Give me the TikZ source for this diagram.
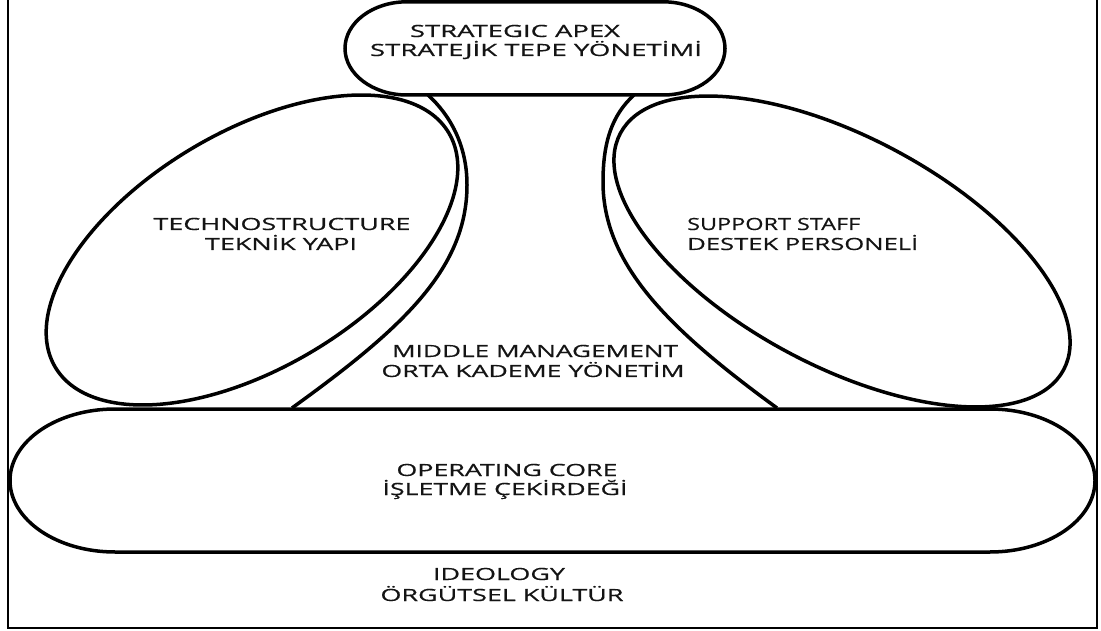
\documentclass[tikz,border=0pt]{standalone}
\usepackage{fontspec}
\setmainfont{Open Sans}
\newfontfamily\lblfont[FakeBold=0.5]{Open Sans}
\usepackage{graphicx}
\newcommand{\fitw}[2]{\resizebox{#1pt}{\height}{#2}}
\begin{document}
\begin{tikzpicture}[x=1pt,y=-1pt,
  shapeline/.style={line width=3.5pt,black},
  frameline/.style={line width=1.8pt,black},
  lbl/.style={inner sep=0pt,anchor=base,font=\lblfont\fontsize{16.8}{20}\selectfont,text=black!92}]
\useasboundingbox (0,0) rectangle (1101,631);
% frame
\draw[frameline] (8,-5) -- (8,628) -- (1097,628) -- (1097,-5);
% operating core
\draw[shapeline] (115,409) -- (990,409)
  arc[start angle=-90,end angle=90,x radius=105,y radius=71.5]
  -- (115,552)
  arc[start angle=90,end angle=270,x radius=105,y radius=71.5] -- cycle;
% technostructure ellipse
\draw[shapeline,rotate around={30.8:(252,250)}] (252,250) ellipse[x radius=229,y radius=118];
% support staff ellipse
\draw[shapeline,rotate around={-28.1:(842,251.5)}] (842,251.5) ellipse[x radius=251.2,y radius=114.3];
% middle management boundaries
\coordinate (mlTop) at (428,95);
\coordinate (mlMid) at (467,185);
\coordinate (mlBot) at (292,408);
\coordinate (mrTop) at (634,95);
\coordinate (mrMid) at (603,182);
\coordinate (mrBot) at (777,408);
\draw[shapeline] (mlTop) .. controls (450,115) and (467,145) .. (mlMid)
  .. controls (467,270) and (400,330) .. (mlBot);
\draw[shapeline] (mrTop) .. controls (612,115) and (603,142) .. (mrMid)
  .. controls (603,265) and (670,330) .. (mrBot);
% strategic apex
\draw[shapeline,fill=white] (407,1.8) -- (663,1.8)
  arc[start angle=-90,end angle=90,x radius=62,y radius=46.6]
  -- (407,95)
  arc[start angle=90,end angle=270,x radius=62,y radius=46.6] -- cycle;
% labels
\node[lbl] (apexA) at (515,37) {\fitw{210}{STRATEGIC APEX}};
\node[lbl] (apexB) at (536,56) {\fitw{332}{STRATEJİK TEPE YÖNETİMİ}};
\node[lbl] (techA) at (282,230) {\fitw{257}{TECHNOSTRUCTURE}};
\node[lbl] (techB) at (281,250) {\fitw{152}{TEKNİK YAPI}};
\node[lbl,anchor=base west] (suppA) at (687,230) {\fitw{173}{SUPPORT STAFF}};
\node[lbl,anchor=base west] (suppB) at (687,250) {\fitw{231}{DESTEK PERSONELİ}};
\node[lbl] (midA) at (535,357) {\fitw{286}{MIDDLE MANAGEMENT}};
\node[lbl] (midB) at (533,377) {\fitw{303}{ORTA KADEME YÖNETİM}};
\node[lbl] (opA) at (507,476) {\fitw{221}{OPERATING CORE}};
\node[lbl] (opB) at (505,495) {\fitw{245}{İŞLETME ÇEKİRDEĞİ}};
\node[lbl] (idA) at (499,580) {\fitw{132}{IDEOLOGY}};
\node[lbl] (idB) at (502,601) {\fitw{243}{ÖRGÜTSEL KÜLTÜR}};
\end{tikzpicture}
\end{document}
